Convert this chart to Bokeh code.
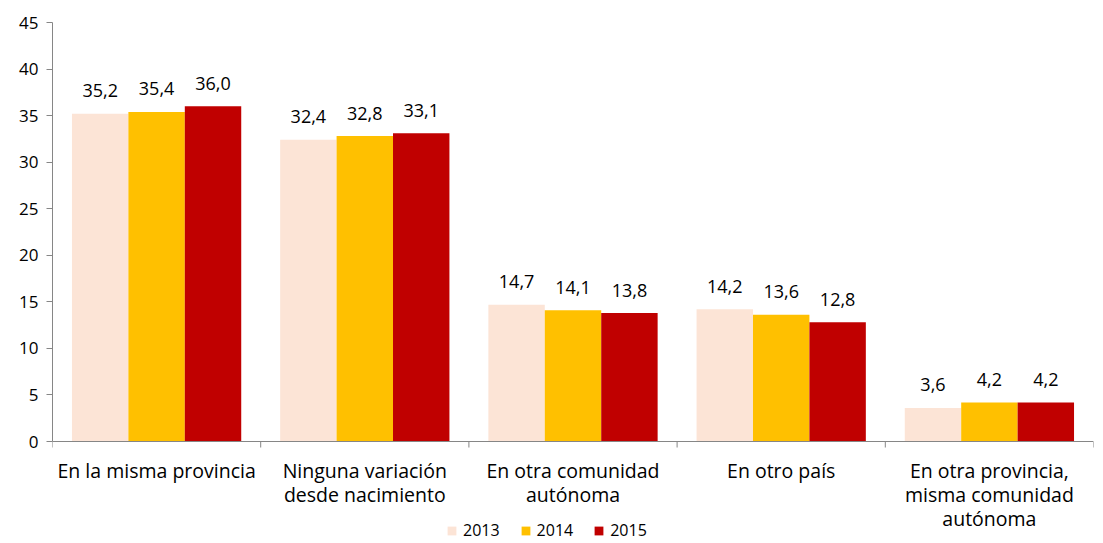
import math
from bokeh.plotting import figure
from bokeh.models import ColumnDataSource, FixedTicker, Legend, LegendItem, Range1d, Span
from bokeh.core.properties import value
from bokeh.embed import file_html
from bokeh.resources import INLINE

categories = ["En la misma provincia", "Ninguna variación\ndesde nacimiento",
              "En otra comunidad\nautónoma", "En otro país",
              "En otra provincia,\nmisma comunidad\nautónoma"]
years = ["2013", "2014", "2015"]
v2013 = [35.2, 32.4, 14.7, 14.2, 3.6]
v2014 = [35.4, 32.8, 14.1, 13.6, 4.2]
v2015 = [36.0, 33.1, 13.8, 12.8, 4.2]
colors = ["#FCE4D6", "#FFC000", "#C00000"]
yticks = [0, 5, 10, 15, 20, 25, 30, 35, 40, 45]

FONT = "Open Sans"
AXIS_COLOR = "#868686"
H = 542
TOP = 22
ZERO_PX = 441
ymax = 45
units_per_px = ymax / (ZERO_PX - TOP)
ymin = -(H - ZERO_PX) * units_per_px

p = figure(width=1098, height=H, output_backend="svg", toolbar_location=None,
           x_range=Range1d(0, len(categories)), y_range=Range1d(ymin, ymax),
           x_axis_location=None,
           min_border_left=52, min_border_right=5, min_border_top=TOP, min_border_bottom=0)
p.outline_line_color = None
p.xgrid.grid_line_color = None
p.ygrid.grid_line_color = None

bw = 0.271
offsets = [-bw, 0, bw]
renderers = []
for vals, yr, col, off in zip([v2013, v2014, v2015], years, colors, offsets):
    xs = [i + 0.5 + off for i in range(len(categories))]
    src = ColumnDataSource(dict(x=xs, top=vals, lab=[f"{v:.1f}".replace(".", ",") for v in vals]))
    r = p.vbar(x="x", top="top", width=bw, source=src, fill_color=col, line_color=None)
    renderers.append((yr, r))
    p.text(x="x", y="top", text="lab", source=src, text_align="center", text_baseline="middle",
           y_offset=-23, text_font=value(FONT), text_font_size="18px", text_color="#000000")

# category axis: baseline, boundary ticks and multi-line labels
p.add_layout(Span(location=0, dimension="width", line_color=AXIS_COLOR, line_width=1))
bounds_x = list(range(len(categories) + 1))
p.ray(x=bounds_x, y=[0] * len(bounds_x), length=6, length_units="screen",
      angle=-math.pi / 2, line_color=AXIS_COLOR, line_width=1)
cat_src = ColumnDataSource(dict(x=[i + 0.5 for i in range(len(categories))],
                                y=[0] * len(categories), t=categories))
p.text(x="x", y="y", text="t", source=cat_src, text_align="center", text_baseline="top",
       y_offset=15, text_font=value(FONT), text_font_size="19.5px", text_color="#000000",
       text_line_height=0.9)

ya = p.yaxis[0]
ya.ticker = FixedTicker(ticks=yticks)
ya.bounds = (0, ymax)
ya.minor_tick_line_color = None
ya.major_tick_out = 6
ya.major_tick_in = 0
ya.major_tick_line_color = AXIS_COLOR
ya.axis_line_color = AXIS_COLOR
ya.major_label_text_font = FONT
ya.major_label_text_font_size = "17px"
ya.major_label_text_color = "#000000"
ya.major_label_standoff = 8

legend = Legend(items=[LegendItem(label=yr, renderers=[r]) for yr, r in renderers],
                orientation="horizontal", location=(394, 1),
                label_text_font=FONT, label_text_font_size="16px", label_text_color="#000000",
                glyph_width=11, glyph_height=11, spacing=20, label_standoff=6,
                background_fill_alpha=0, border_line_color=None, padding=0, margin=0)
p.add_layout(legend, "center")

open("out.html", "w").write(file_html(p, INLINE))
